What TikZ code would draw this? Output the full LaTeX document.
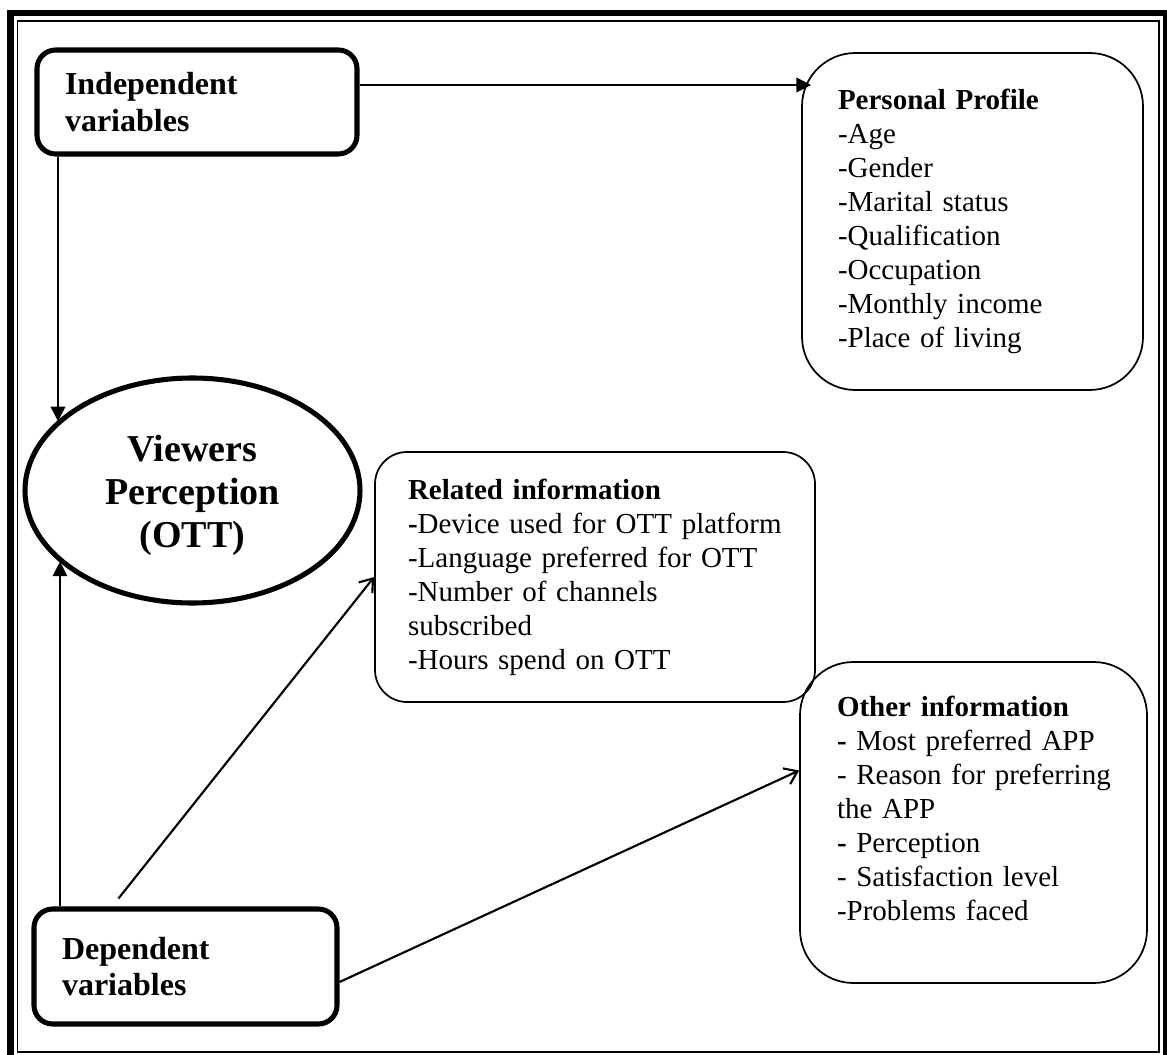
\documentclass[tikz,border=0pt]{standalone}
\usepackage{fontspec}
\setmainfont{Liberation Serif}
\usetikzlibrary{shapes.geometric,arrows.meta}
\newlength\pxu
\setlength\pxu{0.75pt}
\hyphenpenalty=10000

\begin{document}
\begin{tikzpicture}[x=0.75pt,y=-0.75pt,
    varbox/.style={draw, line width=3.8pt, rounded corners=14pt, inner xsep=0pt, align=left,
      font=\fontsize{24}{27.4}\selectfont\bfseries},
    infobox/.style={draw, line width=1.3pt, inner xsep=0pt, align=left,
      font=\fontsize{21.75}{25.5}\selectfont},
    solidarr/.style={line width=1pt, -{Triangle[length=11pt,width=11pt]}},
    openarr/.style={line width=1.6pt, -{Straight Barb[length=9pt,width=13pt,line width=1.6pt]}}]
  \useasboundingbox (0,0) rectangle (1167,1055);
  % page border
  \draw[line width=5.2pt] (10.5,13) rectangle (1166,1060);
  \draw[line width=1.3pt] (17.5,21) rectangle (1159,1052);

  \node[varbox, minimum width=320\pxu, minimum height=104\pxu, text width=264\pxu]
    (indep) at (197,102) {Independent\\variables};
  \node[varbox, minimum width=303\pxu, minimum height=115\pxu, text width=247\pxu]
    (dep) at (185.5,966.5) {Dependent\\variables};
  \node[draw, ellipse, line width=3.8pt, minimum width=335\pxu, minimum height=225\pxu,
    inner sep=0pt, align=center, font=\fontsize{28.5}{32.25}\selectfont\bfseries]
    (view) at (192.5,490.5) {\rule{0pt}{27pt}Viewers\\Perception\\(OTT)};

  \node[infobox, rounded corners=40pt, minimum width=341\pxu, minimum height=337\pxu,
    text width=269\pxu] (profile) at (972.5,221.5)
    {\textbf{Personal Profile}\\-Age\\-Gender\\-Marital status\\-Qualification\\-Occupation\\-Monthly income\\-Place of living};
  \node[infobox, rounded corners=24pt, minimum width=440\pxu, minimum height=250\pxu,
    text width=374\pxu] (related) at (595,577)
    {\textbf{Related information}\\\mbox{\textbf{-}Device used for OTT platform}\\-Language preferred for OTT\\-Number of channels\\subscribed\\-Hours spend on OTT};
  \node[infobox, rounded corners=40pt, minimum width=347\pxu, minimum height=321\pxu,
    text width=273\pxu] (other) at (973.5,822.5)
    {\textbf{Other information}\\\textbf{-} Most preferred APP\\\mbox{- Reason for preferring}\\the APP\\\textbf{-} Perception\\- Satisfaction level\\-Problems faced\\[-4.5pt]\mbox{}};

  % connectors
  \draw[solidarr] ([yshift=17\pxu]indep.east) -- ([xshift=10\pxu,yshift=136.5\pxu]profile.west);
  \draw[solidarr] ([xshift=-139\pxu]indep.south) -- ([xshift=-139\pxu]indep.south |- view.153);
  \draw[solidarr] ([xshift=-125.5\pxu]dep.north) -- ([xshift=-125.5\pxu]dep.north |- view.208);
  \draw[openarr] ([xshift=-67\pxu,yshift=8\pxu]dep.north) -- (related.west);
  \draw[openarr] ([yshift=-15.5\pxu]dep.east) -- ([yshift=52\pxu]other.west);
\end{tikzpicture}
\end{document}
